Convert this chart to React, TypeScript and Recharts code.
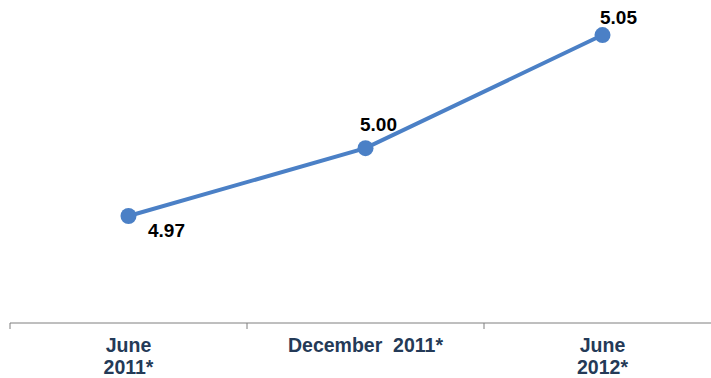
import React from "react";
import { LineChart, Line, XAxis, YAxis, LabelList } from "recharts";

const categories = ["June\n2011*", "December  2011*", "June\n2012*"];
const values = [4.97, 5.0, 5.05];
const labelOffsets = [
  { dx: 38, dy: 21 },
  { dx: 13, dy: -17 },
  { dx: 16, dy: -11 },
];

const data = categories.map((c, i) => ({ name: c, value: values[i] }));

const W = 722;
const H = 378;
const BAND = (W - 10 - 1) / categories.length;

const Tick = (props: any) => {
  const { x, y, payload, index } = props;
  const lines = String(payload.value).split("\n");
  return (
    <g>
      <line x1={x - BAND / 2} x2={x - BAND / 2} y1={y - 8} y2={y - 2} stroke="#7f7f7f" strokeWidth={1} />
      {index === categories.length - 1 && (
        <line x1={x + BAND / 2} x2={x + BAND / 2} y1={y - 8} y2={y - 2} stroke="#7f7f7f" strokeWidth={1} />
      )}
      <text
        x={x}
        y={y}
        textAnchor="middle"
        fill="#243a57"
        fontFamily="Liberation Sans, Arial, sans-serif"
        fontWeight="bold"
        fontSize={19.5}
        style={{ whiteSpace: "pre" }}
      >
        {lines.map((l, i) => (
          <tspan key={i} x={x} dy={i === 0 ? 20.5 : 22.5}>
            {l}
          </tspan>
        ))}
      </text>
    </g>
  );
};

const ValueLabel = (props: any) => {
  const { x, y, value, index } = props;
  const o = labelOffsets[index];
  return (
    <text
      x={x + o.dx}
      y={y + o.dy}
      textAnchor="middle"
      fill="#000"
      fontFamily="Liberation Sans, Arial, sans-serif"
      fontWeight="bold"
      fontSize={19}
    >
      {Number(value).toFixed(2)}
    </text>
  );
};

export default function App() {
  return (
    <div style={{ position: "absolute", left: 0, top: 0, width: 711, height: H, overflow: "hidden", background: "#fff" }}>
      <LineChart width={W} height={H} data={data} margin={{ top: 0, right: 1, bottom: 25, left: 10 }}>
        <XAxis
          dataKey="name"
          interval={0}
          tick={<Tick />}
          tickLine={false}
          padding={{ left: BAND / 2, right: BAND / 2 }}
          axisLine={{ stroke: "#7f7f7f", strokeWidth: 1 }}
        />
        <YAxis hide domain={[4.9227, 5.0655]} allowDataOverflow type="number" />
        <Line
          dataKey="value"
          stroke="#4b80c6"
          strokeWidth={4}
          dot={{ r: 8, fill: "#4b80c6", stroke: "#4b80c6", strokeWidth: 0 }}
          isAnimationActive={false}
        >
          <LabelList dataKey="value" content={<ValueLabel />} />
        </Line>
      </LineChart>
    </div>
  );
}
